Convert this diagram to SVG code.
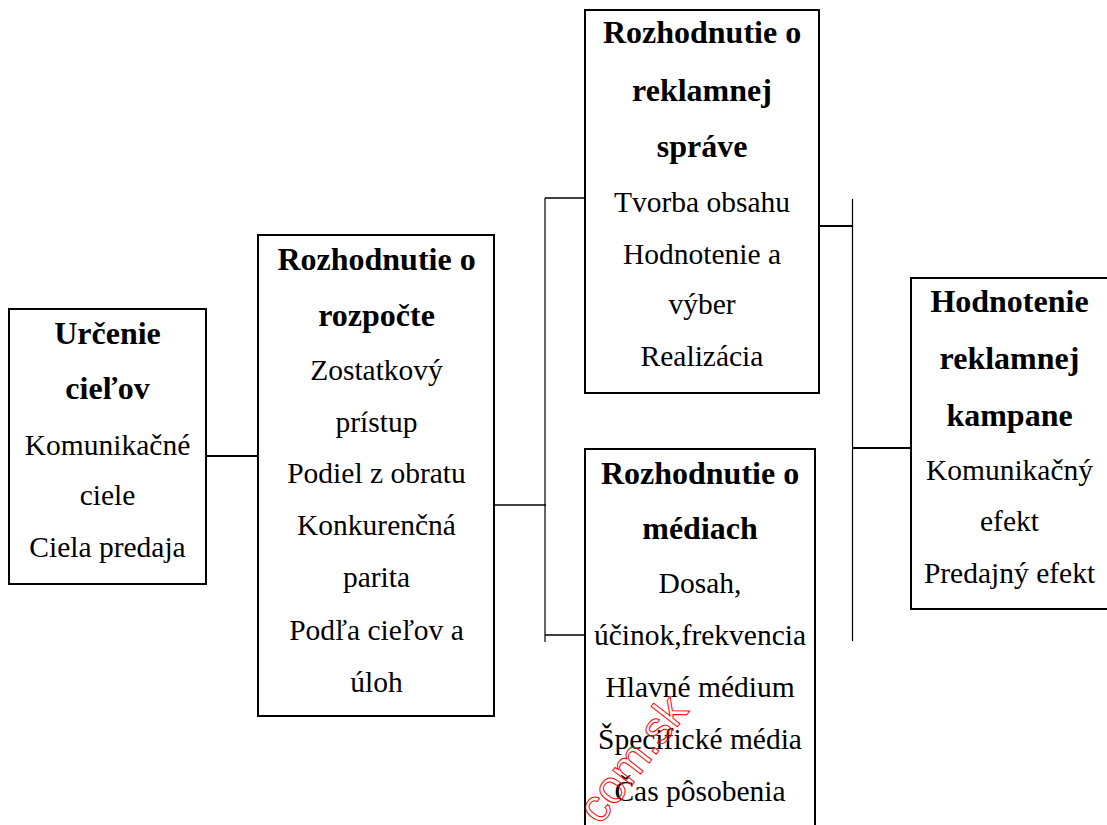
<svg xmlns="http://www.w3.org/2000/svg" width="1107" height="825" viewBox="0 0 1107 825">
  <style>
    .box { fill: #ffffff; stroke: #000000; stroke-width: 2; }
    .h { font-family: "Liberation Serif", "Times New Roman", serif; font-size: 32px; font-weight: bold; text-anchor: middle; fill: #000; }
    .t { font-family: "Liberation Serif", "Times New Roman", serif; font-size: 29.5px; text-anchor: middle; fill: #000; }
    .c { stroke: #000; fill: none; }
    .wm { font-family: "Liberation Sans", Arial, sans-serif; font-size: 46px; fill: none; stroke: #ff0000; stroke-width: 1; }
  </style>
  <rect width="1107" height="825" fill="#ffffff"/>

  <!-- connectors -->
  <g id="connectors">
    <line class="c" x1="200" y1="456" x2="258" y2="456" stroke-width="2"/>
    <line class="c" x1="487" y1="505" x2="546" y2="505" stroke-width="1.5"/>
    <line class="c" x1="545" y1="198" x2="545" y2="642" stroke-width="1.2"/>
    <line class="c" x1="545" y1="198" x2="585" y2="198" stroke-width="1.5"/>
    <line class="c" x1="545" y1="635" x2="585" y2="635" stroke-width="1.5"/>
    <line class="c" x1="852.5" y1="199" x2="852.5" y2="641" stroke-width="1.2"/>
    <line class="c" x1="815" y1="226" x2="853" y2="226" stroke-width="2"/>
    <line class="c" x1="852" y1="448" x2="911" y2="448" stroke-width="2"/>
  </g>

  <!-- Určenie cieľov -->
  <g id="node-ciele">
    <rect class="box" x="9" y="309" width="197" height="275"/>
    <text class="h" x="107.5" y="344">Určenie</text>
    <text class="h" x="107.5" y="399">cieľov</text>
    <text class="t" x="107.5" y="455">Komunikačné</text>
    <text class="t" x="107.5" y="505">ciele</text>
    <text class="t" x="107.5" y="557">Ciela predaja</text>
  </g>

  <!-- Rozhodnutie o rozpočte -->
  <g id="node-rozpocet">
    <rect class="box" x="258" y="235" width="236" height="481"/>
    <text class="h" x="376.5" y="270">Rozhodnutie o</text>
    <text class="h" x="376.5" y="326">rozpočte</text>
    <text class="t" x="376.5" y="380">Zostatkový</text>
    <text class="t" x="376.5" y="432">prístup</text>
    <text class="t" x="376.5" y="483">Podiel z obratu</text>
    <text class="t" x="376.5" y="535">Konkurenčná</text>
    <text class="t" x="376.5" y="587">parita</text>
    <text class="t" x="376.5" y="640">Podľa cieľov a</text>
    <text class="t" x="376.5" y="692">úloh</text>
  </g>

  <!-- Rozhodnutie o reklamnej správe -->
  <g id="node-sprava">
    <rect class="box" x="585" y="10" width="234" height="383"/>
    <text class="h" x="702" y="43">Rozhodnutie o</text>
    <text class="h" x="702" y="101">reklamnej</text>
    <text class="h" x="702" y="157">správe</text>
    <text class="t" x="702" y="212">Tvorba obsahu</text>
    <text class="t" x="702" y="264">Hodnotenie a</text>
    <text class="t" x="702" y="314">výber</text>
    <text class="t" x="702" y="366">Realizácia</text>
  </g>

  <!-- Rozhodnutie o médiach -->
  <g id="node-media">
    <rect class="box" x="585" y="449" width="230" height="390"/>
    <text class="h" x="700" y="484">Rozhodnutie o</text>
    <text class="h" x="700" y="539">médiach</text>
    <text class="t" x="700" y="593">Dosah,</text>
    <text class="t" x="700" y="645">účinok,frekvencia</text>
    <text class="t" x="700" y="697">Hlavné médium</text>
    <text class="t" x="700" y="749">Špecifické média</text>
    <text class="t" x="700" y="801">Čas pôsobenia</text>
  </g>

  <!-- Hodnotenie reklamnej kampane -->
  <g id="node-hodnotenie">
    <rect class="box" x="911" y="278" width="210" height="331"/>
    <text class="h" x="1009.5" y="312">Hodnotenie</text>
    <text class="h" x="1009.5" y="369">reklamnej</text>
    <text class="h" x="1009.5" y="426">kampane</text>
    <text class="t" x="1009.5" y="480">Komunikačný</text>
    <text class="t" x="1009.5" y="531">efekt</text>
    <text class="t" x="1009.5" y="583">Predajný efekt</text>
  </g>

  <!-- outlined stamp text -->
  <text class="wm" transform="translate(600,826) rotate(-52)">com.sk</text>
</svg>
